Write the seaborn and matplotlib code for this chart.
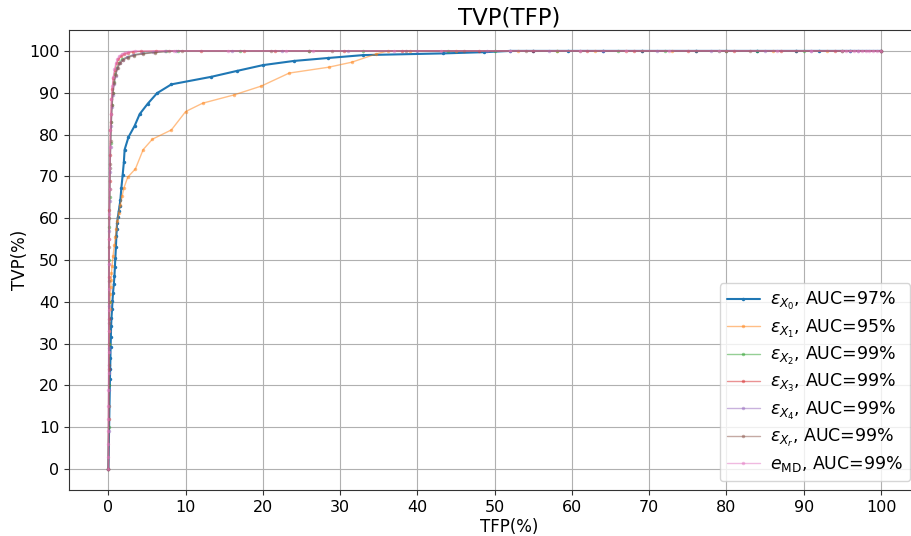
import matplotlib
matplotlib.use('Agg')
import matplotlib.pyplot as plt
import seaborn as sns
import pandas as pd

# ROC points (TFP %, TVP %)
x0_tfp = [0, 0.2, 0.23, 0.26, 0.28, 0.32, 0.35, 0.4, 0.47, 0.53, 0.6, 0.7, 0.78, 0.84, 0.9,
          0.97, 1.03, 1.08, 1.12, 1.23, 1.34, 1.45, 1.55, 1.68, 1.85, 2.0, 2.1, 2.6, 3.4, 4.05,
          5.1, 6.3, 8.15, 13.3, 16.6, 20.0, 24.0, 28.4, 33.0, 43.3, 48.6, 52, 55, 59.5, 64,
          69, 76, 80, 84, 89, 92, 96, 100]
x0_tvp = [0, 21.5, 24, 26.5, 29.1, 31.5, 34.2, 36.2, 38.2, 40.2, 42.2, 44.2, 46.1, 48.3, 50.5,
          53, 55.7, 57.3, 58.9, 60.3, 61.7, 63, 64.4, 67.3, 70.4, 73.4, 76.4, 79.4, 82.1, 84.9,
          87.4, 89.9, 92.0, 93.8, 95.2, 96.6, 97.6, 98.3, 99.0, 99.4, 99.7, 100, 100, 100, 100,
          100, 100, 100, 100, 100, 100, 100, 100]

x1_tfp = [0, 0.1, 0.13, 0.17, 0.22, 0.26, 0.3, 0.35, 0.4, 0.47, 0.6, 0.78, 0.9, 1.0, 1.17,
          1.34, 1.55, 1.77, 2.0, 2.5, 3.5, 4.5, 5.7, 8.15, 10.0, 12.2, 16.3, 19.8, 23.4, 28.5,
          31.5, 34.7, 36.2, 39, 45, 53, 58, 63, 67, 73, 80, 86, 93, 100]
x1_tvp = [0, 30, 33, 38.2, 40, 41.8, 43.5, 45.3, 47, 48.5, 51, 53.7, 55.5, 57.3, 59.3,
          61.3, 63.2, 65.2, 67.2, 69.8, 71.8, 76.4, 78.9, 81.1, 85.5, 87.5, 89.5, 91.6, 94.7, 96.1,
          97.3, 99.3, 100, 100, 100, 100, 100, 100, 100, 100, 100, 100, 100, 100]

x2_tfp = [0, 0.02, 0.04, 0.06, 0.08, 0.1, 0.13, 0.17, 0.22, 0.28, 0.35, 0.45, 0.55, 0.7, 0.9,
          1.1, 1.4, 1.8, 2.5, 3.3, 4.5, 6, 7.5, 9, 17, 26, 33, 44, 50, 58, 66, 72, 79, 84, 90, 95, 100]
x2_tvp = [0, 10, 20, 30, 40, 50, 58, 65, 72, 78, 83, 87, 90, 92.5, 94.5,
          96, 97.2, 98, 98.6, 99.1, 99.4, 99.7, 99.9, 100, 100, 100, 100, 100, 100, 100, 100, 100,
          100, 100, 100, 100, 100]

x3_tfp = [0, 0.02, 0.04, 0.06, 0.08, 0.1, 0.12, 0.15, 0.2, 0.25, 0.32, 0.4, 0.5, 0.65, 0.85,
          1.05, 1.3, 1.6, 2.0, 2.6, 3.2, 4.2, 6.2, 12, 17.5, 21.5, 30.5, 38, 48, 55, 62, 68,
          75, 81, 87, 94, 100]
x3_tvp = [0, 12, 24, 36, 46, 55, 62, 69, 75, 81, 85, 88.5, 91, 93.5, 95.5,
          97, 98, 98.7, 99.2, 99.6, 99.8, 99.9, 100, 100, 100, 100, 100, 100, 100, 100, 100, 100,
          100, 100, 100, 100, 100]

x4_tfp = [0, 0.02, 0.04, 0.06, 0.08, 0.1, 0.13, 0.17, 0.22, 0.28, 0.36, 0.46, 0.58, 0.72, 0.92,
          1.15, 1.45, 1.85, 2.4, 3.2, 4.4, 5.8, 7.3, 8.8, 16, 22.5, 31, 40, 49, 57, 64, 71, 78,
          85, 91, 97, 100]
x4_tvp = [0, 9, 19, 29, 39, 49, 57, 64, 71, 77, 82, 86.5, 89.5, 92, 94,
          95.8, 97, 97.9, 98.5, 99.0, 99.4, 99.7, 99.9, 100, 100, 100, 100, 100, 100, 100, 100, 100,
          100, 100, 100, 100, 100]

xr_tfp = [0, 0.03, 0.05, 0.07, 0.09, 0.11, 0.14, 0.18, 0.23, 0.3, 0.38, 0.48, 0.6, 0.75, 0.95,
          1.2, 1.5, 1.9, 2.5, 3.3, 4.5, 6.0, 7.8, 9.5, 21, 26, 29, 38.5, 46, 54, 61, 69, 76, 83,
          89, 95, 100]
xr_tvp = [0, 15, 25, 35, 45, 53, 60, 67, 73, 78.5, 83, 87, 90, 92.3, 94.3,
          95.9, 97, 97.8, 98.4, 98.9, 99.3, 99.6, 99.9, 100, 100, 100, 100, 100, 100, 100, 100,
          100, 100, 100, 100, 100, 100]

md_tfp = [0, 0, 0, 0, 0, 0, 0.01, 0.02, 0.03, 0.04, 0.05, 0.06, 0.08, 0.1, 0.12, 0.15, 0.18,
          0.22, 0.27, 0.33, 0.4, 0.5, 0.62, 0.78, 0.95, 1.15, 1.4, 1.7, 2.1, 2.6, 3.5, 8.5, 15.5,
          23, 26.5, 37, 43, 52, 61, 67, 72.5, 79, 86.5, 91, 95, 95.5, 96, 96.5, 97, 97.5, 98,
          98.5, 99, 99.5, 100]
md_tvp = [0, 3, 6, 9, 12, 15, 19, 23, 28, 33, 38, 43, 49, 55, 61, 67, 72,
          77, 81, 85, 88.5, 91.5, 93.8, 95.6, 97, 98, 98.7, 99.2, 99.6, 99.8, 100, 100, 100,
          100, 100, 100, 100, 100, 100, 100, 100, 100, 100, 100, 100, 100, 100, 100, 100, 100, 100,
          100, 100, 100, 100]

labels = [r'$\varepsilon_{X_0}$, AUC=97%', r'$\varepsilon_{X_1}$, AUC=95%',
          r'$\varepsilon_{X_2}$, AUC=99%', r'$\varepsilon_{X_3}$, AUC=99%',
          r'$\varepsilon_{X_4}$, AUC=99%', r'$\varepsilon_{X_r}$, AUC=99%',
          r'$e_{\mathrm{MD}}$, AUC=99%']
series = [(x0_tfp, x0_tvp), (x1_tfp, x1_tvp), (x2_tfp, x2_tvp), (x3_tfp, x3_tvp),
          (x4_tfp, x4_tvp), (xr_tfp, xr_tvp), (md_tfp, md_tvp)]

sns.set_style("whitegrid")
plt.rcParams['font.family'] = ['DejaVu Sans']
plt.rcParams['text.color'] = 'black'
plt.rcParams['axes.labelcolor'] = 'black'

# axes run past the right edge of the picture, as in the cropped original
fig = plt.figure(figsize=(9.12, 5.36), dpi=100)
ax = fig.add_axes([69 / 912, 46 / 536, 880 / 912, 460 / 536])
palette = sns.color_palette("tab10")

for i, ((xs, ys), lab) in enumerate(zip(series, labels)):
    df = pd.DataFrame({'TFP': xs, 'TVP': ys})
    first = i == 0
    sns.lineplot(data=df, x='TFP', y='TVP', ax=ax, estimator=None, sort=False,
                 color=palette[i], marker='.', markersize=5, markeredgewidth=0,
                 linewidth=1.5 if first else 1.0, alpha=1.0 if first else 0.5, label=lab)

for s in ax.spines.values():
    s.set_color('#333333')
    s.set_linewidth(0.8)
ax.grid(True, color='#b0b0b0', linewidth=0.8)
ax.tick_params(axis='both', labelsize=11.5, length=3.5, width=0.8, colors='#333333',
               labelcolor='black', bottom=True, left=True)
ax.set_xlim(-5.1, 108.8)
ax.set_ylim(-5, 105)
ax.set_xticks(range(0, 101, 10))
ax.set_yticks(range(0, 101, 10))
ax.set_xlabel('TFP(%)', fontsize=12, labelpad=2)
ax.set_ylabel('TVP(%)', fontsize=12, labelpad=0)
ax.set_title('TVP(TFP)', fontsize=16.5, pad=4)

ax.legend(loc='lower right', bbox_to_anchor=(910 / 912, 55 / 536), bbox_transform=fig.transFigure,
          borderaxespad=0, fontsize=12.5, framealpha=0.8, labelspacing=0.3,
          handlelength=1.9, handletextpad=0.6)

fig.savefig('out.png', dpi=100)
